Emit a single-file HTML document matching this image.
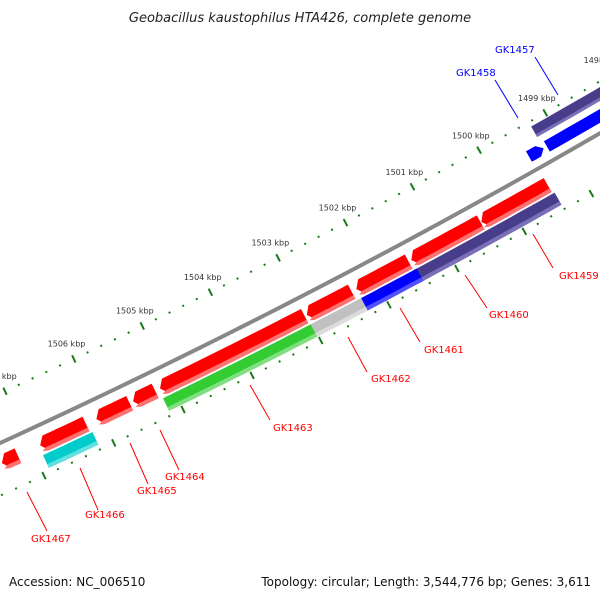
<!DOCTYPE html>
<html><head><meta charset="utf-8"><style>
html,body{margin:0;padding:0;background:#fff;}
svg{display:block;font-family:"DejaVu Sans","Liberation Sans",sans-serif;}
</style></head><body>
<svg id="map" width="600" height="600" viewBox="0 0 600 600">
<rect width="600" height="600" fill="#fff"/>
<text x="300" y="22" text-anchor="middle" font-size="13" font-style="italic" fill="#222">Geobacillus kaustophilus HTA426, complete genome</text>
<g id="ticks"></g>
<g id="backbone"></g>
<g id="feats"></g>
<g id="labels"></g>
<text x="9" y="586" font-size="12" fill="#111">Accession: NC_006510</text>
<text x="591" y="586" font-size="12" text-anchor="end" fill="#111">Topology: circular; Length: 3,544,776 bp; Genes: 3,611</text>
</svg>
<script>
// data (kbp)
const tickLabels = [1498,1499,1500,1501,1502,1503,1504,1505,1506,1507];
const redStarts = [1499.44,1500.44,1501.51,1502.35,1503.04,1505.22,1505.59,1506.22,1507.20];
const redEnds   = [1500.43,1501.47,1502.28,1503.01,1505.15,1505.54,1506.07,1506.88,1507.43];
const row2Starts = [1499.41,1501.46,1502.28,1503.02,1506.19];
const row2Ends   = [1501.51,1502.28,1503.02,1505.17,1506.90];
const row2Colors = ["#483d8b","#0000ff","#c0c0c0","#33cc33","#00cccc"];
const row2Light  = ["#7a70b8","#5050ff","#dcdcdc","#80e080","#60e0e0"];
const row2Names  = ["gene-darkblue","gene-blue","gene-gray","gene-green","gene-cyan"];
const redLabels = ["GK1459","GK1460","GK1461","GK1462","GK1463","GK1464","GK1465","GK1466","GK1467"];
const redLabelX = [559,489,424,371,273,165,137,85,31];
const redLabelY = [279,318,353,382,431,480,494,518,542];
const redLineA = [[533,234],[465,275],[400,308],[348,337],[250,385],[160,430],[130,443],[80,468],[27,492]];
const redLineB = [[553,268],[487,308],[420,342],[367,372],[270,420],[179,470],[148,484],[98,510],[47,531]];

const CX=-2964, CY=-6034, K=0.010737, TH0=Math.atan2(6184,3443), R0=7123;
const svgNS="http://www.w3.org/2000/svg";
function ang(b){return TH0+(b-1500)*K;}
function pt(b,r){const a=ang(b);return [CX+r*Math.cos(a),CY+r*Math.sin(a)];}
function mk(tag,parent,attrs){const e=document.createElementNS(svgNS,tag);for(const k in attrs)e.setAttribute(k,attrs[k]);parent.appendChild(e);return e;}
function arcPts(b1,b2,r,n){const p=[];for(let i=0;i<=n;i++){p.push(pt(b1+(b2-b1)*i/n,r));}return p;}
function shape(b1,b2,r1,r2,dir,h){
  // dir: +1 head at b2, -1 head at b1, 0 none
  let a=b1,b=b2;const pts=[];
  if(dir===1)b=b2-h; if(dir===-1)a=b1+h;
  pts.push(...arcPts(a,b,r1,12));
  if(dir===1)pts.push(pt(b2,(r1+r2)/2));
  pts.push(...arcPts(b,a,r2,12));
  if(dir===-1)pts.push(pt(b1,(r1+r2)/2));
  return pts.map(p=>p[0].toFixed(1)+","+p[1].toFixed(1)).join(" ");
}
const ticks=document.getElementById('ticks');
for(let i=0;i<=60;i++){
  const b=1497+i*0.2; const major=Math.abs(b-Math.round(b))<0.01;
  [7078,7171].forEach(r=>{
    const l=major?4:1;
    const p1=pt(b,r-l),p2=pt(b,r+l);
    const t=mk('line',ticks,{x1:p1[0],y1:p1[1],x2:p2[0],y2:p2[1],stroke:'#1a7a1a','stroke-width':2});
    
    
  });
}
tickLabels.forEach(v=>{
  const p=pt(v,7061);
  const t=mk('text',ticks,{x:p[0],y:p[1]+3,'text-anchor':'middle','font-size':8,fill:'#333'});
  t.textContent=v+' kbp';
  
  
});
const bb=document.getElementById('backbone');
const bpts=arcPts(1496,1509,R0,40).map(p=>p.join(',')).join(' ');
let e=mk('polyline',bb,{points:bpts,fill:'none',stroke:'#888','stroke-width':4});


const fg=document.getElementById('feats');
// upper (blue) features
e=mk('polygon',fg,{points:shape(1497.0,1499.25,7083,7095,0,0),fill:'#483d8b'});


e=mk('polygon',fg,{points:shape(1497.0,1499.25,7092,7095,0,0),fill:'#7a70b8'});


e=mk('polygon',fg,{points:shape(1497.0,1499.20,7102,7114,0,0),fill:'#0000ff'});


e=mk('polygon',fg,{points:shape(1499.25,1499.47,7102,7114,-1,0.08),fill:'#0000ff'});


// red row
redStarts.forEach((s,i)=>{
  let p=mk('polygon',fg,{points:shape(s,redEnds[i],7134,7150,1,0.08),fill:'#ff0000'});
  
  
  p=mk('polygon',fg,{points:shape(s,redEnds[i],7146,7150,1,0.06),fill:'#ff7070'});
  
  
});
row2Starts.forEach((s,i)=>{
  let p=mk('polygon',fg,{points:shape(s,row2Ends[i],7152,7166,0,0),fill:row2Colors[i]});
  
  
  p=mk('polygon',fg,{points:shape(s,row2Ends[i],7162,7166,0,0),fill:row2Light[i]});
  
  
});
const lg=document.getElementById('labels');
redLabels.forEach((n,i)=>{
  let l=mk('line',lg,{x1:redLineA[i][0],y1:redLineA[i][1],x2:redLineB[i][0],y2:redLineB[i][1],stroke:'#ff0000','stroke-width':1});
  
  
  const t=mk('text',lg,{x:redLabelX[i],y:redLabelY[i],'font-size':10,fill:'#ff0000'});
  t.textContent=n;
  
  
});
[["GK1457",495,53,[535,57],[558,95]],["GK1458",456,76,[495,80],[518,118]]].forEach(d=>{
  let l=mk('line',lg,{x1:d[3][0],y1:d[3][1],x2:d[4][0],y2:d[4][1],stroke:'#0000ff','stroke-width':1});
  
  
  const t=mk('text',lg,{x:d[1],y:d[2],'font-size':10,fill:'#0000ff'});
  t.textContent=d[0];
  
  
});
</script>
</body></html>
